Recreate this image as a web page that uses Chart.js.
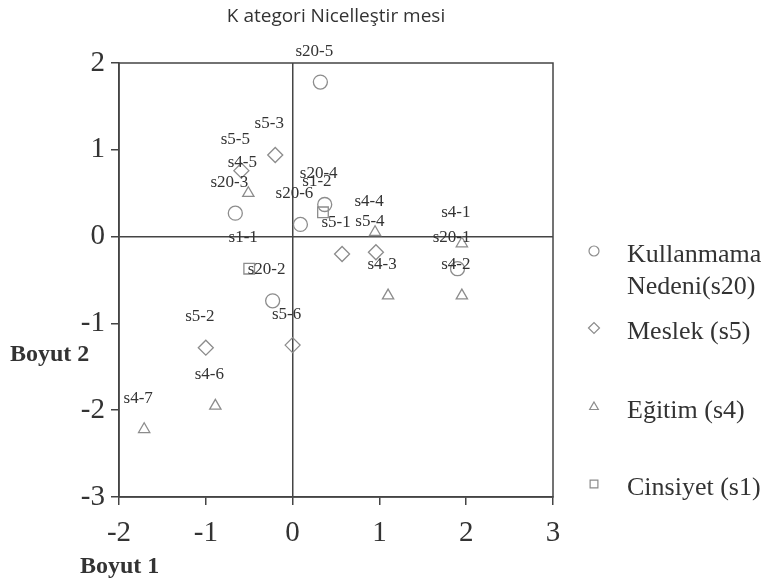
<!DOCTYPE html>
<html>
<head>
<meta charset="utf-8">
<script src="https://cdn.jsdelivr.net/npm/chart.js@4"></script>
<style>
  body { margin: 0; background: #fff; }
  #wrap { width: 769px; height: 587px; }
</style>
</head>
<body>
<div id="wrap"><canvas id="chart" width="769" height="587"></canvas></div>
<script>
// category quantifications (Boyut 1, Boyut 2)
const s20Labels = ['s20-1', 's20-2', 's20-3', 's20-4', 's20-5', 's20-6'];
const s20X = [1.90, -0.23, -0.66, 0.37, 0.32, 0.09];
const s20Y = [-0.37, -0.74, 0.27, 0.37, 1.78, 0.14];

const s5Labels = ['s5-1', 's5-2', 's5-3', 's5-4', 's5-5', 's5-6'];
const s5X = [0.57, -1.00, -0.20, 0.96, -0.59, 0.00];
const s5Y = [-0.20, -1.28, 0.94, -0.18, 0.76, -1.25];

const s4Labels = ['s4-1', 's4-2', 's4-3', 's4-4', 's4-5', 's4-6', 's4-7'];
const s4X = [1.95, 1.95, 1.10, 0.95, -0.51, -0.89, -1.71];
const s4Y = [-0.08, -0.68, -0.68, 0.05, 0.50, -1.95, -2.22];

const s1Labels = ['s1-1', 's1-2'];
const s1X = [-0.50, 0.35];
const s1Y = [-0.37, 0.28];

const seriesNames = [['Kullanmama', 'Nedeni(s20)'], ['Meslek (s5)'], ['Eğitim (s4)'], ['Cinsiyet (s1)']];
const xTicks = [-2, -1, 0, 1, 2, 3];
const yTicks = [-3, -2, -1, 0, 1, 2];

const markColor = '#8c8c8c';
const lineColor = '#444';
const serif = '"Liberation Serif", "DejaVu Serif", serif';

function toPoints(xs, ys, labels) {
  return xs.map((x, i) => ({ x: x, y: ys[i], label: labels[i] }));
}

const styles = [
  { style: 'circle', r: 7, lr: 5 },
  { style: 'rectRot', r: 7.5, lr: 5.5 },
  { style: 'triangle', r: 6.5, lr: 5 },
  { style: 'rect', r: 7.5, lr: 5.5 }
];

const datasets = [
  toPoints(s20X, s20Y, s20Labels),
  toPoints(s5X, s5Y, s5Labels),
  toPoints(s4X, s4Y, s4Labels),
  toPoints(s1X, s1Y, s1Labels)
].map((pts, i) => ({
  label: seriesNames[i].join(' '),
  data: pts,
  pointStyle: styles[i].style,
  pointRadius: styles[i].r,
  pointHoverRadius: styles[i].r,
  pointBorderWidth: 1.3,
  borderColor: markColor,
  backgroundColor: 'rgba(0,0,0,0)'
}));

// frame round the plot area, title over it
const framePlugin = {
  id: 'frame',
  afterDraw(chart) {
    const a = chart.chartArea, ctx = chart.ctx;
    ctx.save();
    ctx.strokeStyle = lineColor;
    ctx.lineWidth = 1.5;
    ctx.strokeRect(a.left, a.top, a.right - a.left, a.bottom - a.top);
    ctx.fillStyle = '#333';
    ctx.font = '19px "Open Sans", "Noto Sans", sans-serif';
    ctx.textAlign = 'center';
    ctx.textBaseline = 'middle';
    ctx.fillText('K ategori Nicelleştir mesi', (a.left + a.right) / 2, 17);
    ctx.restore();
  }
};

// point labels, set a little above and left of each mark
const pointLabels = {
  id: 'pointLabels',
  afterDatasetsDraw(chart) {
    const ctx = chart.ctx;
    ctx.save();
    ctx.font = '17px ' + serif;
    ctx.fillStyle = '#333';
    ctx.textAlign = 'center';
    ctx.textBaseline = 'middle';
    chart.data.datasets.forEach((ds, di) => {
      chart.getDatasetMeta(di).data.forEach((el, i) => {
        ctx.fillText(ds.data[i].label, el.x - 6, el.y - 31);
      });
    });
    ctx.restore();
  }
};

// legend on the right plus the two axis names
const sideText = {
  id: 'sideText',
  afterDraw(chart) {
    const ctx = chart.ctx;
    ctx.save();
    const rows = [255, 332, 411, 488];
    chart.data.datasets.forEach((ds, i) => {
      ctx.fillStyle = 'rgba(0,0,0,0)';
      ctx.strokeStyle = markColor;
      ctx.lineWidth = 1.2;
      Chart.helpers.drawPoint(ctx, {
        pointStyle: styles[i].style,
        radius: styles[i].lr,
        borderWidth: 1.2
      }, 594, rows[i] - 4);
      ctx.fillStyle = '#333';
      ctx.font = '26px ' + serif;
      ctx.textAlign = 'left';
      ctx.textBaseline = 'middle';
      seriesNames[i].forEach((t, j) => ctx.fillText(t, 627, rows[i] + j * 32));
    });
    ctx.font = 'bold 24px ' + serif;
    ctx.fillStyle = '#333';
    ctx.textAlign = 'left';
    ctx.textBaseline = 'middle';
    ctx.fillText('Boyut 2', 10, 355);
    ctx.fillText('Boyut 1', 80, 567);
    ctx.restore();
  }
};

new Chart(document.getElementById('chart'), {
  type: 'scatter',
  data: { datasets: datasets },
  plugins: [framePlugin, pointLabels, sideText],
  options: {
    responsive: false,
    animation: false,
    events: [],
    layout: { padding: { left: 0, right: 216, top: 63, bottom: 0 } },
    plugins: {
      legend: { display: false },
      tooltip: { enabled: false }
    },
    scales: {
      x: {
        type: 'linear',
        min: -2, max: 3,
        afterBuildTicks: s => { s.ticks = xTicks.map(v => ({ value: v })); },
        afterFit: s => { s.height = 90; },
        border: { display: true, color: lineColor, width: 1.5 },
        grid: {
          color: c => (c.tick && c.tick.value === 0 ? lineColor : 'rgba(0,0,0,0)'),
          lineWidth: 1.5,
          tickColor: lineColor,
          tickLength: 8,
          tickWidth: 1.5
        },
        ticks: { color: '#333', padding: 11, font: { family: serif, size: 29 } }
      },
      y: {
        type: 'linear',
        min: -3, max: 2,
        afterBuildTicks: s => { s.ticks = yTicks.map(v => ({ value: v })); },
        afterFit: s => { s.width = 119; },
        border: { display: true, color: lineColor, width: 1.5 },
        grid: {
          color: c => (c.tick && c.tick.value === 0 ? lineColor : 'rgba(0,0,0,0)'),
          lineWidth: 1.5,
          tickColor: lineColor,
          tickLength: 8,
          tickWidth: 1.5
        },
        ticks: { color: '#333', padding: 6, font: { family: serif, size: 29 } }
      }
    }
  }
});
</script>
</body>
</html>
